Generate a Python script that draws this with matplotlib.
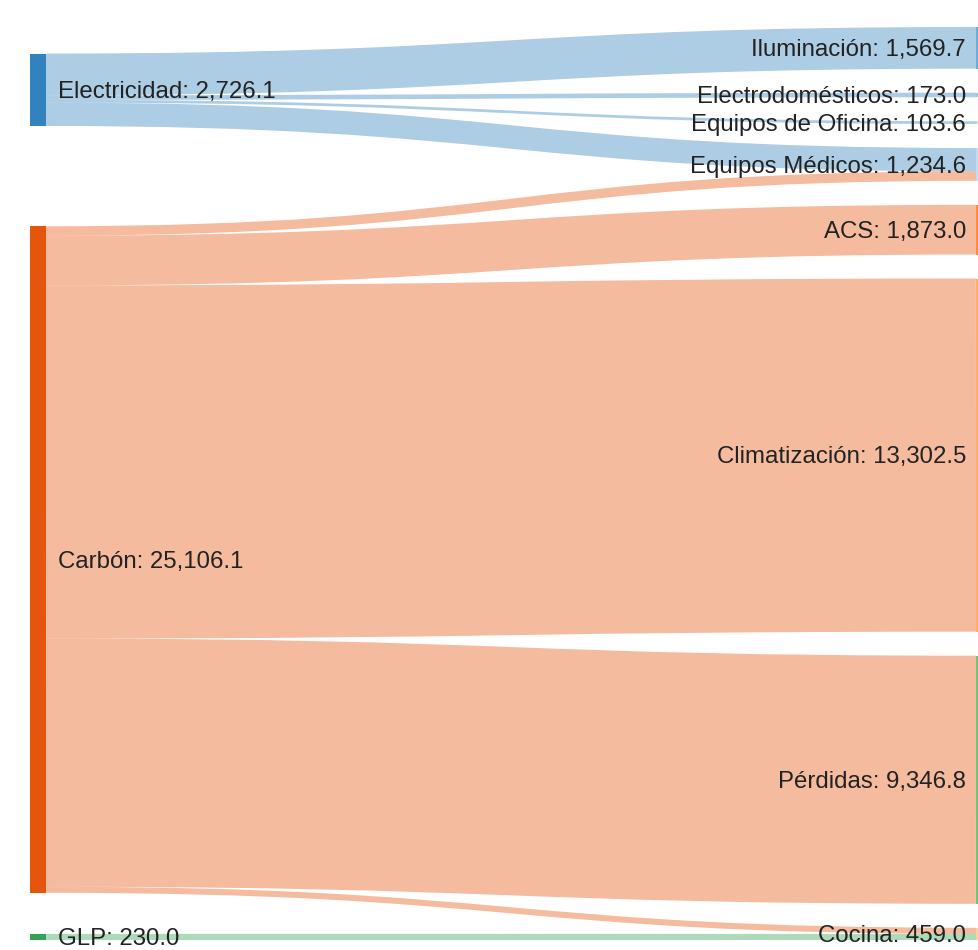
import numpy as np
import matplotlib
matplotlib.use("Agg")
import matplotlib.pyplot as plt
from matplotlib.patches import Rectangle, PathPatch
from matplotlib.path import Path

plt.rcParams["font.family"] = ["Liberation Sans", "DejaVu Sans"]

# flows (source -> target, value)
link_source = ["Electricidad", "Electricidad", "Electricidad", "Electricidad",
               "Carbón", "Carbón", "Carbón", "Carbón", "Carbón", "GLP"]
link_target = ["Iluminación", "Electrodomésticos", "Equipos de Oficina", "Equipos Médicos",
               "Equipos Médicos", "ACS", "Climatización", "Pérdidas", "Cocina", "Cocina"]
link_value = [1569.7, 173.0, 103.6, 879.8, 354.8, 1873.0, 13302.5, 9346.8, 229.0, 230.0]

left_nodes = ["Electricidad", "Carbón", "GLP"]
right_nodes = ["Iluminación", "Electrodomésticos", "Equipos de Oficina", "Equipos Médicos",
               "ACS", "Climatización", "Pérdidas", "Cocina"]

node_colors = {
    "Electricidad": "#3182bd", "Iluminación": "#6baed6", "Electrodomésticos": "#9ecae1",
    "Equipos de Oficina": "#c6dbef", "Equipos Médicos": "#c6dbef", "Carbón": "#e6550d",
    "ACS": "#fd8d3c", "Climatización": "#fdae6b", "Cocina": "#fdd0a2",
    "GLP": "#31a354", "Pérdidas": "#74c476",
}

W, H, DPI = 979, 950, 100
TOP, BOTTOM = 27, 940
PAD = 24
NODE_W = 16
LEFT_X0 = 30
RIGHT_X0 = 976
FONT_PX = 24

links = list(zip(link_source, link_target, link_value))
value = {}
for s, t, v in links:
    value[s] = value.get(s, 0) + v
for n in right_nodes:
    value[n] = sum(v for s, t, v in links if t == n)

ky = min((BOTTOM - TOP - (len(col) - 1) * PAD) / sum(value[n] for n in col)
         for col in (left_nodes, right_nodes))

# right column stacked from the top
ny0 = {}
y = TOP
for n in right_nodes:
    ny0[n] = y
    y += value[n] * ky + PAD

# where each link lands on its target
tgt_off = {}
for n in right_nodes:
    y = ny0[n]
    for i, (s, t, v) in enumerate(links):
        if t == n:
            tgt_off[i] = y + v * ky / 2
            y += v * ky

# left nodes at the weighted centre of their links
prev = TOP - PAD
for n in left_nodes:
    c = sum(v * tgt_off[i] for i, (s, t, v) in enumerate(links) if s == n) / value[n]
    y0 = max(c - value[n] * ky / 2, prev + PAD)
    ny0[n] = y0
    prev = y0 + value[n] * ky

src_off = {}
for n in left_nodes:
    y = ny0[n]
    idx = [i for i, (s, t, v) in enumerate(links) if s == n]
    idx.sort(key=lambda i: tgt_off[i])
    for i in idx:
        src_off[i] = y + links[i][2] * ky / 2
        y += links[i][2] * ky

fig = plt.figure(figsize=(W / DPI, H / DPI), dpi=DPI)
ax = fig.add_axes([0, 0, 1, 1])
ax.set_xlim(0, W)
ax.set_ylim(H, 0)
ax.axis("off")

x_a = LEFT_X0 + NODE_W
x_b = RIGHT_X0
xm = (x_a + x_b) / 2
for i, (s, t, v) in enumerate(links):
    y0, y1 = src_off[i], tgt_off[i]
    path = Path([(x_a, y0), (xm, y0), (xm, y1), (x_b, y1)],
                [Path.MOVETO, Path.CURVE4, Path.CURVE4, Path.CURVE4])
    ax.add_patch(PathPatch(path, facecolor="none", edgecolor=node_colors[s],
                           alpha=0.4, lw=max(1, v * ky) * 72 / DPI, capstyle="butt"))

fs = FONT_PX * 72 / DPI
for n in left_nodes + right_nodes:
    h = value[n] * ky
    x0 = LEFT_X0 if n in left_nodes else RIGHT_X0
    ax.add_patch(Rectangle((x0, ny0[n]), NODE_W, h, facecolor=node_colors[n],
                           edgecolor="none"))
    yc = ny0[n] + h / 2 + 0.35 * FONT_PX
    label = f"{n}: {value[n]:,.1f}"
    if n in left_nodes:
        ax.text(x0 + NODE_W + 12, yc, label, ha="left", va="baseline",
                fontsize=fs, color="#222222")
    else:
        ax.text(x0 - 10, yc, label, ha="right", va="baseline",
                fontsize=fs, color="#222222")

fig.savefig("out.png", dpi=DPI, facecolor="white")
